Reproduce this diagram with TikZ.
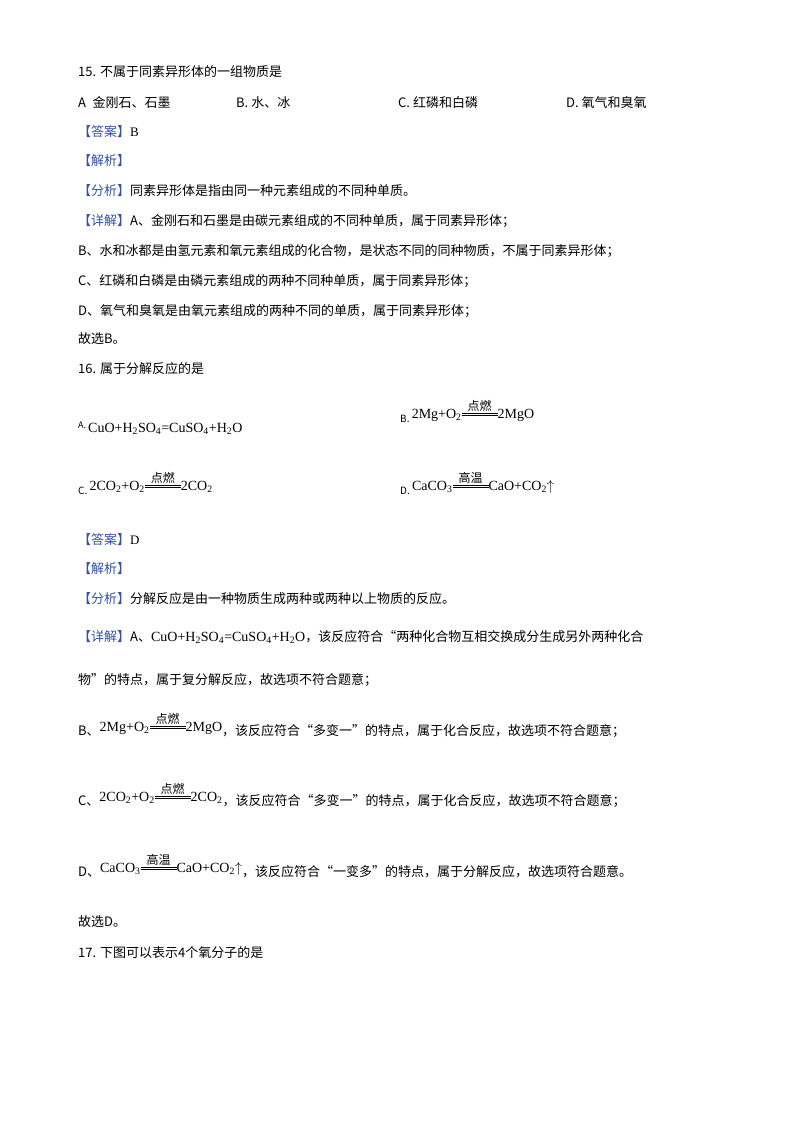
\documentclass[tikz,border=0pt]{standalone}
\usepackage{fontspec}
\setmainfont{Noto Sans CJK SC}
\newfontfamily\cjk{Noto Sans CJK SC}
\newfontfamily\lat{Liberation Serif}
\newcommand\ssub[1]{\textsubscript{#1}}
\newcommand\cond[1]{$\mathrel{\mathop{\raisebox{2.5pt}{\vbox{\hrule width 36pt height 0.5pt\vskip1.6pt\hrule width 36pt height 0.5pt}}}\limits^{\hbox{\cjk\fontsize{12}{12}\selectfont #1}}}$}
\newcommand\ans[1]{\textcolor{ansblue}{#1}}
\definecolor{ansblue}{RGB}{50,80,170}
\tikzset{line/.style={anchor=base west,inner sep=0pt,font=\fontsize{13}{15}\selectfont}}
\begin{document}
\begin{tikzpicture}[x=1pt,y=-1pt]
\useasboundingbox[fill=white] (0,0) rectangle (800,1132);
\node[line] (q15) at (78,77) {15. 不属于同素异形体的一组物质是};
\node[line] (a15) at (78,107) {A\enspace 金刚石、石墨};
\node[line] (b15) at (236,107) {B. 水、冰};
\node[line] (c15) at (398,107) {C. 红磷和白磷};
\node[line] (d15) at (566,107) {D. 氧气和臭氧};
\node[line] (ans15) at (78,136) {\ans{【答案】}{\lat B}};
\node[line] (jx15) at (78,165) {\ans{【解析】}};
\node[line] (fx15) at (78,195) {\ans{【分析】}同素异形体是指由同一种元素组成的不同种单质。};
\node[line] (xj15) at (78,225) {\ans{【详解】}A、金刚石和石墨是由碳元素组成的不同种单质，属于同素异形体；};
\node[line] (lb15) at (78,255) {B、水和冰都是由氢元素和氧元素组成的化合物，是状态不同的同种物质，不属于同素异形体；};
\node[line] (lc15) at (78,285) {C、红磷和白磷是由磷元素组成的两种不同种单质，属于同素异形体；};
\node[line] (ld15) at (78,315) {D、氧气和臭氧是由氧元素组成的两种不同的单质，属于同素异形体；};
\node[line] (gx15) at (78,343) {故选B。};
\node[line] (q16) at (78,373) {16. 属于分解反应的是};
\node[line] (a16) at (78,428) {\fontsize{9}{9}\selectfont A.\ \raisebox{-4pt}{\lat\fontsize{14}{14}\selectfont CuO+H\ssub{2}SO\ssub{4}=CuSO\ssub{4}+H\ssub{2}O}};
\node[line] (b16) at (400,422) {\fontsize{10}{10}\selectfont B.\ \raisebox{4pt}{\lat\fontsize{14}{14}\selectfont 2Mg+O\ssub{2}\cond{点燃}2MgO}};
\node[line] (c16) at (78,494) {\fontsize{10}{10}\selectfont C.\ \raisebox{4pt}{\lat\fontsize{14}{14}\selectfont 2CO\ssub{2}+O\ssub{2}\cond{点燃}2CO\ssub{2}}};
\node[line] (d16) at (400,494) {\fontsize{10}{10}\selectfont D.\ \raisebox{4pt}{\lat\fontsize{14}{14}\selectfont CaCO\ssub{3}\cond{高温}CaO+CO\ssub{2}$\uparrow$}};
\node[line] (ans16) at (78,544) {\ans{【答案】}{\lat D}};
\node[line] (jx16) at (78,573) {\ans{【解析】}};
\node[line] (fx16) at (78,603) {\ans{【分析】}分解反应是由一种物质生成两种或两种以上物质的反应。};
\node[line] (xj16) at (78,641) {\ans{【详解】}A、{\lat\fontsize{14}{14}\selectfont CuO+H\ssub{2}SO\ssub{4}=CuSO\ssub{4}+H\ssub{2}O}，该反应符合“两种化合物互相交换成分生成另外两种化合};
\node[line] (xj16b) at (78,684) {物”的特点，属于复分解反应，故选项不符合题意；};
\node[line] (lb16) at (78,735) {B、\raisebox{4pt}{\lat\fontsize{14}{14}\selectfont 2Mg+O\ssub{2}\cond{点燃}2MgO}，该反应符合“多变一”的特点，属于化合反应，故选项不符合题意；};
\node[line] (lc16) at (78,805) {C、\raisebox{4pt}{\lat\fontsize{14}{14}\selectfont 2CO\ssub{2}+O\ssub{2}\cond{点燃}2CO\ssub{2}}，该反应符合“多变一”的特点，属于化合反应，故选项不符合题意；};
\node[line] (ld16) at (78,876) {D、\raisebox{4pt}{\lat\fontsize{14}{14}\selectfont CaCO\ssub{3}\cond{高温}CaO+CO\ssub{2}$\uparrow$}，该反应符合“一变多”的特点，属于分解反应，故选项符合题意。};
\node[line] (gx16) at (78,926) {故选D。};
\node[line] (q17) at (78,957) {17. 下图可以表示4个氧分子的是};
\end{tikzpicture}
\end{document}
